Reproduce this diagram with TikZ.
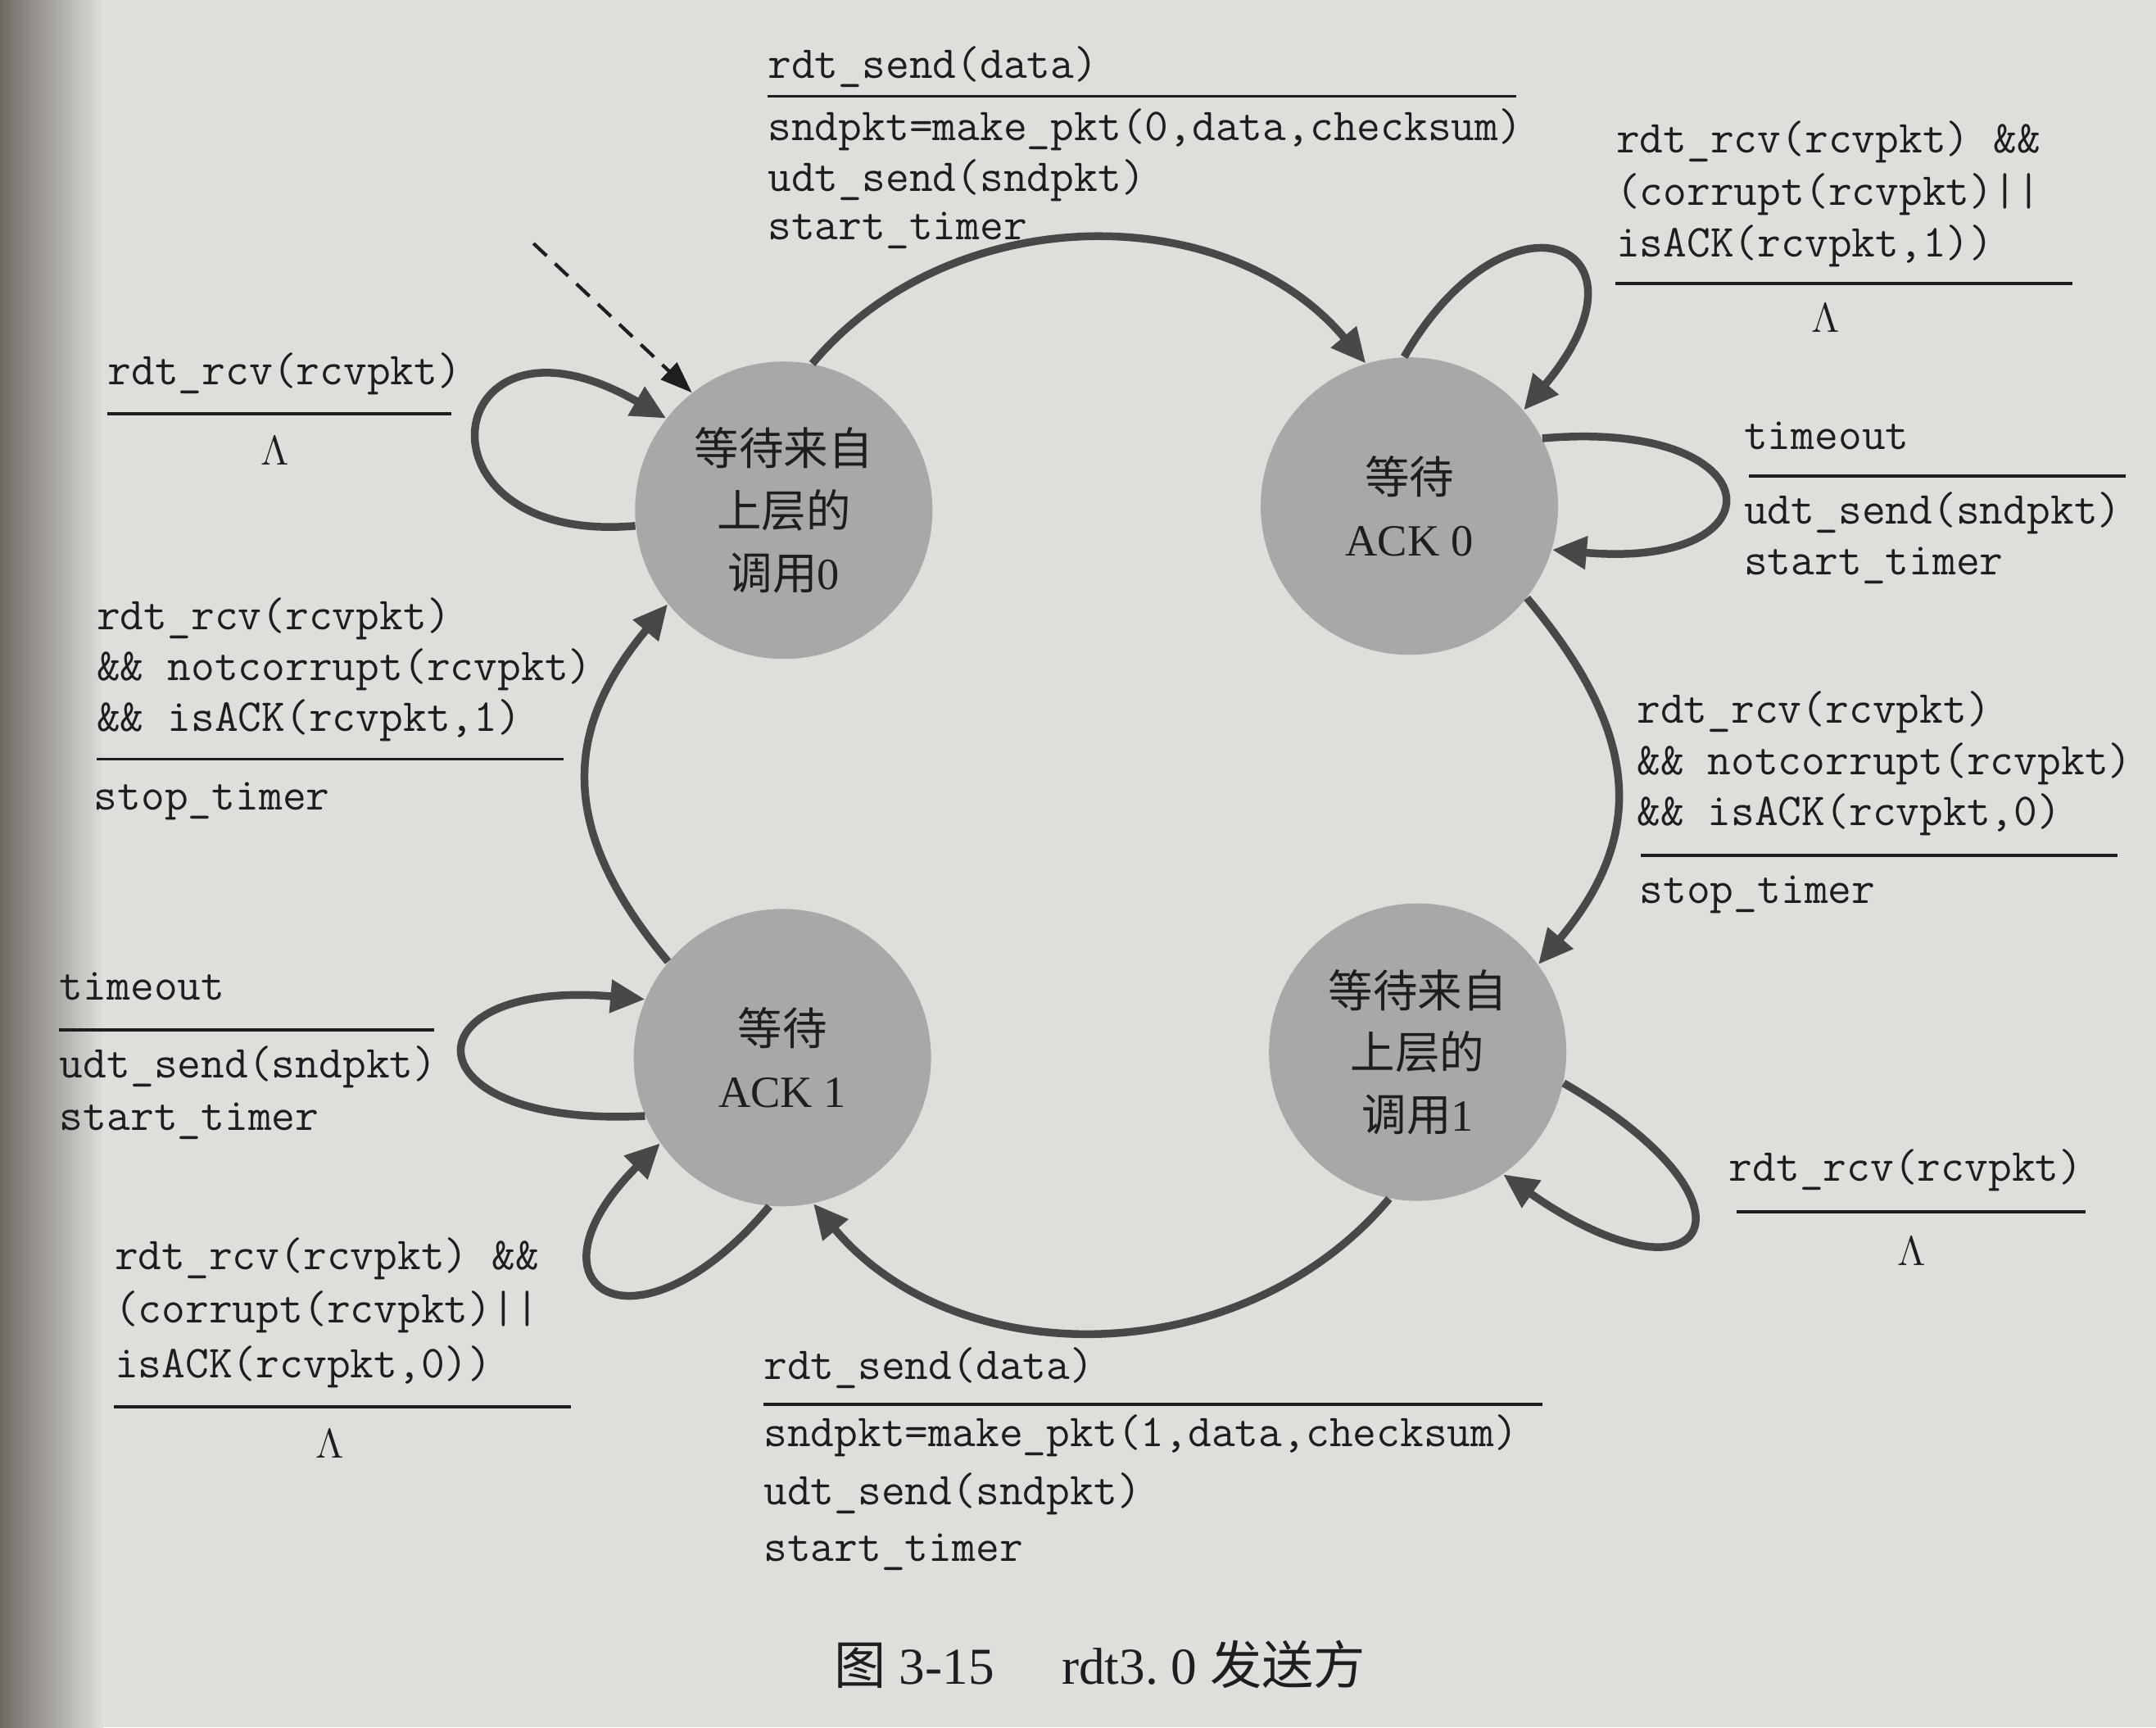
\documentclass[tikz,border=0pt]{standalone}
\usepackage{fontspec}
\newfontfamily\cjk{Noto Sans CJK SC}
\newfontfamily\tms{Liberation Serif}
\usetikzlibrary{arrows.meta}

\definecolor{paper}{RGB}{222,222,219}
\definecolor{shadow}{RGB}{112,106,100}
\definecolor{statefill}{RGB}{168,168,166}
\definecolor{arc}{RGB}{72,72,70}
\definecolor{ink}{RGB}{30,30,30}

\begin{document}
\begin{tikzpicture}[x=0.16786mm, y=0.16786mm,
    state/.style={circle, fill=statefill, minimum size=36.3mm, inner sep=0pt,
      align=center, text=ink, font=\cjk\fontsize{15.5}{21.5}\selectfont},
    trans/.style={draw=arc, line width=2.7pt, -{Triangle[length=12pt,width=11pt]}},
    lbl/.style={anchor=base west, inner sep=0pt, text=ink,
      font=\ttfamily\fontsize{15.9}{18}\selectfont},
    lam/.style={inner sep=0pt, text=ink, font=\fontsize{15.5}{18}\selectfont},
    rule/.style={draw=ink, line width=1pt}]

        % page
        \useasboundingbox (0,0) rectangle (1568,-1256);
        \fill[paper] (0,0) rectangle (1568,-1256);
        \shade[left color=shadow, right color=paper] (0,0) rectangle (75,-1256);

        % states
        \node[state] (w0) at (570,-371) {等待来自\\上层的\\调用{\tms 0}};
        \node[state] (a0) at (1025,-368) {等待\\{\tms ACK 0}};
        \node[state] (w1) at (1031,-765) {等待来自\\上层的\\调用{\tms 1}};
        \node[state] (a1) at (569,-769) {等待\\{\tms ACK 1}};

        % start
        \coordinate (init) at (388,-177);
        \draw[ink, line width=1.2pt, dash pattern=on 2.2mm off 1.4mm,
          -{Triangle[length=11pt,width=8pt]}] (init) -- (w0.128);

        % transitions between states
        \draw[trans] (w0.79) to[out=50, in=130] (a0.107);
        \draw[trans] (a0.-38) to[out=-50, in=50, looseness=1.2] (w1.36);
        \draw[trans] (w1.-101) to[out=-130, in=-50] (a1.-78);
        \draw[trans] (a1.140) to[out=130, in=-130, looseness=1.2] (w0.-141);

        % self loops
        \draw[trans] (w0.186) .. controls +(185:170) and +(150:190) .. (w0.142);
        \draw[trans] (a0.92) .. controls +(60:150) and +(50:160) .. (a0.40);
        \draw[trans] (a0.27) .. controls +(5:170) and +(-5:170) .. (a0.-17);
        \draw[trans] (w1.-12) .. controls +(-30:180) and +(-35:180) .. (w1.-55);
        \draw[trans] (a1.203) .. controls +(183:175) and +(175:175) .. (a1.157);
        \draw[trans] (a1.-95) .. controls +(-130:150) and +(-135:150) .. (a1.215);

        % labels
        \node[lbl] (topa) at (558,-57) {rdt\_send(data)};
        \draw[rule] (558,-70) -- (1103,-70);
        \node[lbl] (topb) at (558,-102) {sndpkt=make\_pkt(0,data,checksum)};
        \node[lbl] (topc) at (558,-139) {udt\_send(sndpkt)};
        \node[lbl] (topd) at (558,-174) {start\_timer};

        \node[lbl] (a0la) at (1175,-111) {rdt\_rcv(rcvpkt) \&\&};
        \node[lbl] (a0lb) at (1175,-149) {(corrupt(rcvpkt)||};
        \node[lbl] (a0lc) at (1175,-187) {isACK(rcvpkt,1))};
        \draw[rule] (1175,-206) -- (1507,-206);
        \node[lam] (a0lam) at (1328,-231) {$\Lambda$};

        \node[lbl] (to0a) at (1268,-327) {timeout};
        \draw[rule] (1272,-346) -- (1546,-346);
        \node[lbl] (to0b) at (1268,-381) {udt\_send(sndpkt)};
        \node[lbl] (to0c) at (1268,-418) {start\_timer};

        \node[lbl] (ack0a) at (1190,-526) {rdt\_rcv(rcvpkt)};
        \node[lbl] (ack0b) at (1190,-563) {\&\& notcorrupt(rcvpkt)};
        \node[lbl] (ack0c) at (1190,-600) {\&\& isACK(rcvpkt,0)};
        \draw[rule] (1193,-622) -- (1540,-622);
        \node[lbl] (ack0d) at (1192,-657) {stop\_timer};

        \node[lbl] (w1la) at (1257,-859) {rdt\_rcv(rcvpkt)};
        \draw[rule] (1263,-881) -- (1517,-881);
        \node[lam] (w1lam) at (1390,-910) {$\Lambda$};

        \node[lbl] (bota) at (555,-1003) {rdt\_send(data)};
        \draw[rule] (555,-1021) -- (1122,-1021);
        \node[lbl] (botb) at (555,-1052) {sndpkt=make\_pkt(1,data,checksum)};
        \node[lbl] (botc) at (555,-1094) {udt\_send(sndpkt)};
        \node[lbl] (botd) at (555,-1135) {start\_timer};

        \node[lbl] (a1la) at (83,-923) {rdt\_rcv(rcvpkt) \&\&};
        \node[lbl] (a1lb) at (83,-962) {(corrupt(rcvpkt)||};
        \node[lbl] (a1lc) at (83,-1002) {isACK(rcvpkt,0))};
        \draw[rule] (83,-1023) -- (415,-1023);
        \node[lam] (a1lam) at (240,-1050) {$\Lambda$};

        \node[lbl] (to1a) at (43,-727) {timeout};
        \draw[rule] (43,-749) -- (316,-749);
        \node[lbl] (to1b) at (43,-784) {udt\_send(sndpkt)};
        \node[lbl] (to1c) at (43,-822) {start\_timer};

        \node[lbl] (ack1a) at (70,-458) {rdt\_rcv(rcvpkt)};
        \node[lbl] (ack1b) at (70,-495) {\&\& notcorrupt(rcvpkt)};
        \node[lbl] (ack1c) at (70,-532) {\&\& isACK(rcvpkt,1)};
        \draw[rule] (70,-552) -- (410,-552);
        \node[lbl] (ack1d) at (68,-589) {stop\_timer};

        \node[lbl] (w0la) at (78,-280) {rdt\_rcv(rcvpkt)};
        \draw[rule] (78,-301) -- (328,-301);
        \node[lam] (w0lam) at (200,-328) {$\Lambda$};

        % caption
        \node[text=ink, font=\tms\fontsize{18}{20}\selectfont] (cap) at (800,-1210)
          {{\cjk 图}\ 3-15\hspace{1.3em}rdt3.\ 0\ {\cjk 发送方}};

      \end{tikzpicture}
\end{document}
